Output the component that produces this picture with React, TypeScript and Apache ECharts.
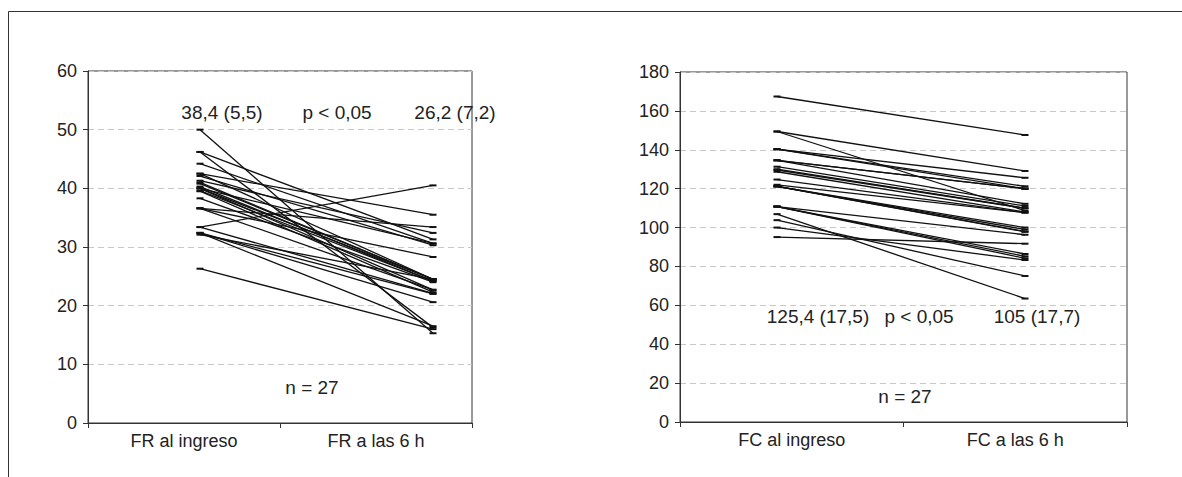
import React, { useEffect, useRef } from "react";
import * as echarts from "echarts";

// ---- Data ----
const FR_CATEGORIES = ["FR al ingreso", "FR a las 6 h"];
const FC_CATEGORIES = ["FC al ingreso", "FC a las 6 h"];

const FR_INGRESO = [50, 46.2, 46.2, 44.2, 42.5, 42.5, 42.1, 41.3, 41.0, 40.8, 40.3, 40.0, 40.0, 40.0, 39.6, 39.5, 38.3, 36.6, 36.6, 36.6, 33.4, 33.4, 32.4, 32.4, 32.4, 32.1, 26.3];
const FR_6H = [15.3, 16.3, 31.3, 30.6, 35.5, 24.5, 30.3, 32.4, 24.5, 24.5, 24.2, 24.5, 22.7, 30.6, 24.2, 22.3, 24.0, 33.4, 28.3, 22.7, 40.5, 22.1, 20.6, 16.5, 22.0, 24.5, 16.0];

const FC_INGRESO = [167.4, 149.4, 149.4, 140.3, 140.3, 140.3, 134.6, 134.6, 134.6, 131.3, 130, 129.6, 128.7, 124.7, 122, 121.2, 121.2, 121.2, 121.2, 110.8, 110.8, 110.8, 110.8, 106.9, 103.8, 100, 95.1];
const FC_6H = [147.6, 129.1, 108.7, 125.6, 121.2, 120, 120, 120, 112.2, 111.1, 110, 109.9, 108, 107.7, 107.7, 100, 99, 98, 97.8, 96.3, 86.4, 85.2, 84.2, 63.5, 75.1, 83.3, 91.7];

const FR_Y = { min: 0, max: 60, interval: 10 };
const FC_Y = { min: 0, max: 180, interval: 20 };

const FR_TEXTS = ["38,4 (5,5)", "p < 0,05", "26,2 (7,2)", "n = 27"];
const FC_TEXTS = ["125,4 (17,5)", "p < 0,05", "105 (17,7)", "n = 27"];

// ---- Layout ----
const FONT = "'Liberation Sans', Arial, Helvetica, sans-serif";
const FS = 18;
const FS_NOTE = 19;
const TXT = "#222";
const LEFT_GRID = { left: 88, top: 71, width: 384, height: 352 };
const RIGHT_GRID = { left: 680, top: 72, width: 447, height: 350 };
const LEFT_LINE_X = [200, 433];
const RIGHT_LINE_X = [777, 1025];

function xRange(grid: { left: number; width: number }, px: number[]) {
  const f0 = (px[0] - grid.left) / grid.width;
  const f1 = (px[1] - grid.left) / grid.width;
  const span = 1 / (f1 - f0);
  const min = -f0 * span;
  return { min, max: min + span };
}

export default function App() {
  const ref = useRef<HTMLDivElement>(null);
  useEffect(() => {
    if (!ref.current) return;
    const chart = echarts.init(ref.current, null, { renderer: "svg" });

    const catAxis = (gridIndex: number, data: string[]) => ({
      gridIndex,
      type: "category",
      data,
      boundaryGap: true,
      axisLine: { onZero: false, lineStyle: { color: "#333", width: 1 } },
      axisTick: { show: true, length: 5, lineStyle: { color: "#333" } },
      axisLabel: { color: TXT, fontSize: FS, fontFamily: FONT, margin: 9 },
      splitLine: { show: false },
    });
    const valX = (gridIndex: number, r: { min: number; max: number }) => ({
      gridIndex,
      type: "value",
      show: false,
      min: r.min,
      max: r.max,
      splitLine: { show: false },
    });
    const yAx = (gridIndex: number, cfg: { min: number; max: number; interval: number }) => ({
      gridIndex,
      type: "value",
      min: cfg.min,
      max: cfg.max,
      interval: cfg.interval,
      axisLine: { show: true, onZero: false, lineStyle: { color: "#333", width: 1 } },
      axisTick: { show: true, length: 5, lineStyle: { color: "#333" } },
      axisLabel: { color: TXT, fontSize: FS, fontFamily: FONT, margin: 11 },
      splitLine: { show: true, lineStyle: { color: "#c8c8c8", type: [6, 4], width: 1 } },
    });

    const lineSeries = (starts: number[], ends: number[], xIdx: number, yIdx: number) =>
      starts.map((s, i) => ({
        type: "line",
        xAxisIndex: xIdx,
        yAxisIndex: yIdx,
        data: [
          [0, s],
          [1, ends[i]],
        ],
        symbol: "rect",
        symbolSize: [7, 2],
        itemStyle: { color: "#111" },
        lineStyle: { color: "#111", width: 1.3 },
        silent: true,
      }));

    const txt = (x: number, y: number, text: string) => ({
      type: "text",
      x,
      y,
      style: {
        text,
        fill: TXT,
        font: `${FS_NOTE}px ${FONT}`,
        textAlign: "center",
        textVerticalAlign: "middle",
      },
    });

    chart.setOption({
      animation: false,
      backgroundColor: "#fff",
      grid: [
        { ...LEFT_GRID, show: true, borderColor: "#333", borderWidth: 1, containLabel: false },
        { ...RIGHT_GRID, show: true, borderColor: "#333", borderWidth: 1, containLabel: false },
      ],
      xAxis: [
        catAxis(0, FR_CATEGORIES),
        valX(0, xRange(LEFT_GRID, LEFT_LINE_X)),
        catAxis(1, FC_CATEGORIES),
        valX(1, xRange(RIGHT_GRID, RIGHT_LINE_X)),
      ],
      yAxis: [yAx(0, FR_Y), yAx(1, FC_Y)],
      series: [
        ...lineSeries(FR_INGRESO, FR_6H, 1, 0),
        ...lineSeries(FC_INGRESO, FC_6H, 3, 1),
      ],
      graphic: [
        {
          type: "rect",
          shape: { x: 8.5, y: 11.5, width: 1300, height: 600 },
          style: { fill: "none", stroke: "#333", lineWidth: 1 },
          silent: true,
        },
        txt(222, 112, FR_TEXTS[0]),
        txt(337, 112, FR_TEXTS[1]),
        txt(455, 112, FR_TEXTS[2]),
        txt(312, 387, FR_TEXTS[3]),
        txt(818, 316, FC_TEXTS[0]),
        txt(919, 316, FC_TEXTS[1]),
        txt(1037, 316, FC_TEXTS[2]),
        txt(905, 396, FC_TEXTS[3]),
      ],
    });
    return () => chart.dispose();
  }, []);

  return (
    <div
      ref={ref}
      style={{ position: "fixed", left: 0, top: 0, width: 1182, height: 477, background: "#fff" }}
    />
  );
}
